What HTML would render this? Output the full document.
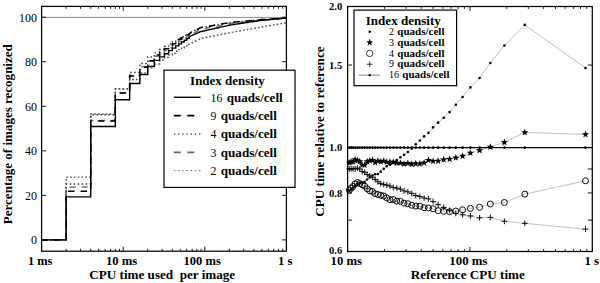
<!DOCTYPE html>
<html><head><meta charset="utf-8"><style>
html,body{margin:0;padding:0;background:#fff;width:600px;height:283px;overflow:hidden}
svg{display:block}
text{font-family:"Liberation Serif",serif}
</style></head><body>
<svg width="600" height="283" viewBox="0 0 600 283">
<line x1="41.6" y1="17.4" x2="286.4" y2="17.4" stroke="#8a8a8a" stroke-width="1"/>
<polyline points="41.60,239.90 66.16,239.90 66.16,177.10 90.73,177.10 90.73,114.07 115.29,114.07 115.29,88.91 129.66,88.91 129.66,79.56 139.86,79.56 139.86,72.88 147.76,72.88 147.76,67.75 154.23,67.75 154.23,63.97 159.69,63.97 159.69,60.05 164.42,60.05 164.42,57.36 168.59,57.36 168.59,55.11 172.33,55.11 172.33,53.09 175.71,53.09 175.71,51.27 178.79,51.27 178.79,49.60 181.63,49.60 181.63,48.12 184.25,48.12 184.25,46.80 186.70,46.80 186.70,45.57 188.98,45.57 188.98,44.41 190.20,43.80 191.42,43.18 192.64,42.57 193.86,41.96 195.07,41.34 196.29,40.73 197.51,40.11 198.73,39.50 199.94,38.89 201.16,38.46 202.38,38.21 203.60,37.97 204.81,37.72 206.03,37.48 207.25,37.23 208.47,36.99 209.69,36.74 210.90,36.49 212.12,36.25 213.34,36.00 214.56,35.76 215.77,35.51 216.99,35.27 218.21,35.02 219.43,34.78 220.64,34.53 221.86,34.29 223.08,34.04 224.30,33.80 225.52,33.55 226.73,33.31 227.95,33.06 229.17,32.82 230.39,32.57 231.60,32.35 232.82,32.14 234.04,31.92 235.26,31.70 236.47,31.49 237.69,31.27 238.91,31.05 240.13,30.83 241.35,30.62 242.56,30.40 243.78,30.18 245.00,29.97 246.22,29.75 247.43,29.53 248.65,29.31 249.87,29.10 251.09,28.88 252.30,28.66 253.52,28.45 254.74,28.23 255.96,28.01 257.18,27.79 258.39,27.58 259.61,27.36 260.83,27.15 262.05,26.94 263.26,26.73 264.48,26.52 265.70,26.31 266.92,26.10 268.13,25.90 269.35,25.69 270.57,25.48 271.79,25.27 273.01,25.06 274.22,24.85 275.44,24.64 276.66,24.44 277.88,24.23 279.09,24.02 280.31,23.81 281.53,23.60 282.75,23.39 283.96,23.18 285.18,22.98 286.40,22.77" fill="none" stroke="#5a5a5a" stroke-width="1.4" stroke-dasharray="1.8,2.0"/>
<polyline points="41.60,239.90 66.16,239.90 66.16,186.90 90.73,186.90 90.73,120.53 115.29,120.53 115.29,92.92 129.66,92.92 129.66,75.55 139.86,75.55 139.86,66.64 147.76,66.64 147.76,61.29 154.23,61.29 154.23,56.17 159.69,56.17 159.69,52.96 164.42,52.96 164.42,50.17 168.59,50.17 168.59,47.71 172.33,47.71 172.33,45.35 175.71,45.35 175.71,43.22 178.79,43.22 178.79,41.27 181.63,41.27 181.63,39.61 184.25,39.61 184.25,38.20 186.70,38.20 186.70,36.89 188.98,36.89 188.98,35.66 190.20,35.01 191.42,34.35 192.64,33.70 193.86,33.05 195.07,32.39 196.29,31.74 197.51,31.08 198.73,30.43 199.94,29.77 201.16,29.33 202.38,29.08 203.60,28.84 204.81,28.59 206.03,28.34 207.25,28.10 208.47,27.85 209.69,27.61 210.90,27.36 212.12,27.12 213.34,26.87 214.56,26.63 215.77,26.38 216.99,26.14 218.21,25.89 219.43,25.65 220.64,25.40 221.86,25.16 223.08,24.91 224.30,24.67 225.52,24.42 226.73,24.18 227.95,23.93 229.17,23.69 230.39,23.44 231.60,23.31 232.82,23.18 234.04,23.06 235.26,22.93 236.47,22.81 237.69,22.68 238.91,22.55 240.13,22.43 241.35,22.30 242.56,22.17 243.78,22.05 245.00,21.92 246.22,21.79 247.43,21.67 248.65,21.54 249.87,21.41 251.09,21.29 252.30,21.16 253.52,21.03 254.74,20.91 255.96,20.78 257.18,20.65 258.39,20.53 259.61,20.40 260.83,20.28 262.05,20.19 263.26,20.10 264.48,20.00 265.70,19.91 266.92,19.81 268.13,19.72 269.35,19.63 270.57,19.53 271.79,19.44 273.01,19.35 274.22,19.25 275.44,19.16 276.66,19.06 277.88,18.97 279.09,18.88 280.31,18.78 281.53,18.69 282.75,18.59 283.96,18.50 285.18,18.41 286.40,18.31" fill="none" stroke="#6f6f6f" stroke-width="1.5" stroke-dasharray="6,6" stroke-dashoffset="3"/>
<polyline points="41.60,239.90 66.16,239.90 66.16,184.00 90.73,184.00 90.73,114.74 115.29,114.74 115.29,88.91 129.66,88.91 129.66,72.43 139.86,72.43 139.86,63.52 147.76,63.52 147.76,56.84 154.23,56.84 154.23,52.83 159.69,52.83 159.69,49.47 164.42,49.47 164.42,46.56 168.59,46.56 168.59,43.99 172.33,43.99 172.33,41.70 175.71,41.70 175.71,39.79 178.79,39.79 178.79,38.06 181.63,38.06 181.63,36.59 184.25,36.59 184.25,35.35 186.70,35.35 186.70,34.20 188.98,34.20 188.98,33.12 190.20,32.55 191.42,31.97 192.64,31.40 193.86,30.82 195.07,30.25 196.29,29.68 197.51,29.10 198.73,28.53 199.94,27.95 201.16,27.56 202.38,27.35 203.60,27.14 204.81,26.94 206.03,26.73 207.25,26.52 208.47,26.31 209.69,26.10 210.90,25.89 212.12,25.68 213.34,25.47 214.56,25.26 215.77,25.06 216.99,24.85 218.21,24.64 219.43,24.43 220.64,24.22 221.86,24.01 223.08,23.80 224.30,23.59 225.52,23.38 226.73,23.18 227.95,22.97 229.17,22.76 230.39,22.55 231.60,22.43 232.82,22.31 234.04,22.19 235.26,22.08 236.47,21.96 237.69,21.84 238.91,21.72 240.13,21.61 241.35,21.49 242.56,21.37 243.78,21.25 245.00,21.14 246.22,21.02 247.43,20.90 248.65,20.78 249.87,20.67 251.09,20.55 252.30,20.43 253.52,20.31 254.74,20.20 255.96,20.08 257.18,19.96 258.39,19.84 259.61,19.72 260.83,19.62 262.05,19.55 263.26,19.48 264.48,19.40 265.70,19.33 266.92,19.26 268.13,19.19 269.35,19.11 270.57,19.04 271.79,18.97 273.01,18.89 274.22,18.82 275.44,18.75 276.66,18.67 277.88,18.60 279.09,18.53 280.31,18.46 281.53,18.38 282.75,18.31 283.96,18.24 285.18,18.16 286.40,18.09" fill="none" stroke="#333" stroke-width="1.4" stroke-dasharray="1.5,2.5"/>
<polyline points="41.60,239.90 66.16,239.90 66.16,191.35 90.73,191.35 90.73,120.98 115.29,120.98 115.29,92.92 129.66,92.92 129.66,75.99 139.86,75.99 139.86,67.31 147.76,67.31 147.76,60.63 154.23,60.63 154.23,55.06 159.69,55.06 159.69,51.67 164.42,51.67 164.42,48.74 168.59,48.74 168.59,46.15 172.33,46.15 172.33,43.65 175.71,43.65 175.71,41.39 178.79,41.39 178.79,39.33 181.63,39.33 181.63,37.63 184.25,37.63 184.25,36.24 186.70,36.24 186.70,34.96 188.98,34.96 188.98,33.75 190.20,33.11 191.42,32.47 192.64,31.83 193.86,31.19 195.07,30.55 196.29,29.91 197.51,29.27 198.73,28.63 199.94,27.99 201.16,27.56 202.38,27.35 203.60,27.14 204.81,26.94 206.03,26.73 207.25,26.52 208.47,26.31 209.69,26.10 210.90,25.89 212.12,25.68 213.34,25.47 214.56,25.26 215.77,25.06 216.99,24.85 218.21,24.64 219.43,24.43 220.64,24.22 221.86,24.01 223.08,23.80 224.30,23.59 225.52,23.38 226.73,23.18 227.95,22.97 229.17,22.76 230.39,22.55 231.60,22.43 232.82,22.31 234.04,22.19 235.26,22.08 236.47,21.96 237.69,21.84 238.91,21.72 240.13,21.61 241.35,21.49 242.56,21.37 243.78,21.25 245.00,21.14 246.22,21.02 247.43,20.90 248.65,20.78 249.87,20.67 251.09,20.55 252.30,20.43 253.52,20.31 254.74,20.20 255.96,20.08 257.18,19.96 258.39,19.84 259.61,19.72 260.83,19.62 262.05,19.55 263.26,19.48 264.48,19.40 265.70,19.33 266.92,19.26 268.13,19.19 269.35,19.11 270.57,19.04 271.79,18.97 273.01,18.89 274.22,18.82 275.44,18.75 276.66,18.67 277.88,18.60 279.09,18.53 280.31,18.46 281.53,18.38 282.75,18.31 283.96,18.24 285.18,18.16 286.40,18.09" fill="none" stroke="#000" stroke-width="1.5" stroke-dasharray="6.5,6"/>
<polyline points="41.60,239.90 66.16,239.90 66.16,196.92 90.73,196.92 90.73,126.55 115.29,126.55 115.29,99.82 129.66,99.82 129.66,83.56 139.86,83.56 139.86,74.43 147.76,74.43 147.76,66.42 154.23,66.42 154.23,60.40 159.69,60.40 159.69,56.84 164.42,56.84 164.42,53.72 168.59,53.72 168.59,50.61 172.33,50.61 172.33,48.14 175.71,48.14 175.71,45.91 178.79,45.91 178.79,43.87 181.63,43.87 181.63,41.99 184.25,41.99 184.25,40.26 186.70,40.26 186.70,38.64 188.98,38.64 188.98,37.13 190.20,36.33 191.42,35.72 192.64,35.18 193.86,34.64 195.07,34.10 196.29,33.56 197.51,33.02 198.73,32.48 199.94,31.94 201.16,31.54 202.38,31.27 203.60,30.99 204.81,30.72 206.03,30.45 207.25,30.18 208.47,29.90 209.69,29.63 210.90,29.36 212.12,29.09 213.34,28.81 214.56,28.54 215.77,28.27 216.99,28.00 218.21,27.72 219.43,27.45 220.64,27.18 221.86,26.91 223.08,26.63 224.30,26.36 225.52,26.09 226.73,25.82 227.95,25.55 229.17,25.27 230.39,25.00 231.60,24.82 232.82,24.64 234.04,24.46 235.26,24.27 236.47,24.09 237.69,23.91 238.91,23.73 240.13,23.55 241.35,23.37 242.56,23.19 243.78,23.01 245.00,22.83 246.22,22.65 247.43,22.47 248.65,22.28 249.87,22.10 251.09,21.92 252.30,21.74 253.52,21.56 254.74,21.38 255.96,21.20 257.18,21.02 258.39,20.84 259.61,20.66 260.83,20.50 262.05,20.37 263.26,20.25 264.48,20.12 265.70,19.99 266.92,19.87 268.13,19.74 269.35,19.62 270.57,19.49 271.79,19.37 273.01,19.24 274.22,19.12 275.44,18.99 276.66,18.87 277.88,18.74 279.09,18.62 280.31,18.49 281.53,18.37 282.75,18.24 283.96,18.12 285.18,17.99 286.40,17.87" fill="none" stroke="#000" stroke-width="1.4"/>
<rect x="41.6" y="6.4" width="244.80" height="244.80" fill="none" stroke="#000" stroke-width="1.25"/>
<line x1="66.16" y1="251.2" x2="66.16" y2="248.79999999999998" stroke="#000" stroke-width="0.9"/>
<line x1="66.16" y1="6.4" x2="66.16" y2="8.8" stroke="#000" stroke-width="0.9"/>
<line x1="80.53" y1="251.2" x2="80.53" y2="248.79999999999998" stroke="#000" stroke-width="0.9"/>
<line x1="80.53" y1="6.4" x2="80.53" y2="8.8" stroke="#000" stroke-width="0.9"/>
<line x1="90.73" y1="251.2" x2="90.73" y2="248.79999999999998" stroke="#000" stroke-width="0.9"/>
<line x1="90.73" y1="6.4" x2="90.73" y2="8.8" stroke="#000" stroke-width="0.9"/>
<line x1="98.64" y1="251.2" x2="98.64" y2="248.79999999999998" stroke="#000" stroke-width="0.9"/>
<line x1="98.64" y1="6.4" x2="98.64" y2="8.8" stroke="#000" stroke-width="0.9"/>
<line x1="105.10" y1="251.2" x2="105.10" y2="248.79999999999998" stroke="#000" stroke-width="0.9"/>
<line x1="105.10" y1="6.4" x2="105.10" y2="8.8" stroke="#000" stroke-width="0.9"/>
<line x1="110.56" y1="251.2" x2="110.56" y2="248.79999999999998" stroke="#000" stroke-width="0.9"/>
<line x1="110.56" y1="6.4" x2="110.56" y2="8.8" stroke="#000" stroke-width="0.9"/>
<line x1="115.29" y1="251.2" x2="115.29" y2="248.79999999999998" stroke="#000" stroke-width="0.9"/>
<line x1="115.29" y1="6.4" x2="115.29" y2="8.8" stroke="#000" stroke-width="0.9"/>
<line x1="119.47" y1="251.2" x2="119.47" y2="248.79999999999998" stroke="#000" stroke-width="0.9"/>
<line x1="119.47" y1="6.4" x2="119.47" y2="8.8" stroke="#000" stroke-width="0.9"/>
<line x1="123.20" y1="251.2" x2="123.20" y2="246.7" stroke="#000" stroke-width="0.9"/>
<line x1="123.20" y1="6.4" x2="123.20" y2="10.9" stroke="#000" stroke-width="0.9"/>
<line x1="147.76" y1="251.2" x2="147.76" y2="248.79999999999998" stroke="#000" stroke-width="0.9"/>
<line x1="147.76" y1="6.4" x2="147.76" y2="8.8" stroke="#000" stroke-width="0.9"/>
<line x1="162.13" y1="251.2" x2="162.13" y2="248.79999999999998" stroke="#000" stroke-width="0.9"/>
<line x1="162.13" y1="6.4" x2="162.13" y2="8.8" stroke="#000" stroke-width="0.9"/>
<line x1="172.33" y1="251.2" x2="172.33" y2="248.79999999999998" stroke="#000" stroke-width="0.9"/>
<line x1="172.33" y1="6.4" x2="172.33" y2="8.8" stroke="#000" stroke-width="0.9"/>
<line x1="180.24" y1="251.2" x2="180.24" y2="248.79999999999998" stroke="#000" stroke-width="0.9"/>
<line x1="180.24" y1="6.4" x2="180.24" y2="8.8" stroke="#000" stroke-width="0.9"/>
<line x1="186.70" y1="251.2" x2="186.70" y2="248.79999999999998" stroke="#000" stroke-width="0.9"/>
<line x1="186.70" y1="6.4" x2="186.70" y2="8.8" stroke="#000" stroke-width="0.9"/>
<line x1="192.16" y1="251.2" x2="192.16" y2="248.79999999999998" stroke="#000" stroke-width="0.9"/>
<line x1="192.16" y1="6.4" x2="192.16" y2="8.8" stroke="#000" stroke-width="0.9"/>
<line x1="196.89" y1="251.2" x2="196.89" y2="248.79999999999998" stroke="#000" stroke-width="0.9"/>
<line x1="196.89" y1="6.4" x2="196.89" y2="8.8" stroke="#000" stroke-width="0.9"/>
<line x1="201.07" y1="251.2" x2="201.07" y2="248.79999999999998" stroke="#000" stroke-width="0.9"/>
<line x1="201.07" y1="6.4" x2="201.07" y2="8.8" stroke="#000" stroke-width="0.9"/>
<line x1="204.80" y1="251.2" x2="204.80" y2="246.7" stroke="#000" stroke-width="0.9"/>
<line x1="204.80" y1="6.4" x2="204.80" y2="10.9" stroke="#000" stroke-width="0.9"/>
<line x1="229.36" y1="251.2" x2="229.36" y2="248.79999999999998" stroke="#000" stroke-width="0.9"/>
<line x1="229.36" y1="6.4" x2="229.36" y2="8.8" stroke="#000" stroke-width="0.9"/>
<line x1="243.73" y1="251.2" x2="243.73" y2="248.79999999999998" stroke="#000" stroke-width="0.9"/>
<line x1="243.73" y1="6.4" x2="243.73" y2="8.8" stroke="#000" stroke-width="0.9"/>
<line x1="253.93" y1="251.2" x2="253.93" y2="248.79999999999998" stroke="#000" stroke-width="0.9"/>
<line x1="253.93" y1="6.4" x2="253.93" y2="8.8" stroke="#000" stroke-width="0.9"/>
<line x1="261.84" y1="251.2" x2="261.84" y2="248.79999999999998" stroke="#000" stroke-width="0.9"/>
<line x1="261.84" y1="6.4" x2="261.84" y2="8.8" stroke="#000" stroke-width="0.9"/>
<line x1="268.30" y1="251.2" x2="268.30" y2="248.79999999999998" stroke="#000" stroke-width="0.9"/>
<line x1="268.30" y1="6.4" x2="268.30" y2="8.8" stroke="#000" stroke-width="0.9"/>
<line x1="273.76" y1="251.2" x2="273.76" y2="248.79999999999998" stroke="#000" stroke-width="0.9"/>
<line x1="273.76" y1="6.4" x2="273.76" y2="8.8" stroke="#000" stroke-width="0.9"/>
<line x1="278.49" y1="251.2" x2="278.49" y2="248.79999999999998" stroke="#000" stroke-width="0.9"/>
<line x1="278.49" y1="6.4" x2="278.49" y2="8.8" stroke="#000" stroke-width="0.9"/>
<line x1="282.67" y1="251.2" x2="282.67" y2="248.79999999999998" stroke="#000" stroke-width="0.9"/>
<line x1="282.67" y1="6.4" x2="282.67" y2="8.8" stroke="#000" stroke-width="0.9"/>
<line x1="41.6" y1="239.90" x2="46.1" y2="239.90" stroke="#000" stroke-width="0.9"/>
<line x1="286.4" y1="239.90" x2="281.9" y2="239.90" stroke="#000" stroke-width="0.9"/>
<text x="36.9" y="244.20000000000002" font-size="12" font-weight="normal" text-anchor="end" fill="#000" textLength="6" lengthAdjust="spacingAndGlyphs" >0</text>
<line x1="41.6" y1="195.36" x2="46.1" y2="195.36" stroke="#000" stroke-width="0.9"/>
<line x1="286.4" y1="195.36" x2="281.9" y2="195.36" stroke="#000" stroke-width="0.9"/>
<text x="36.9" y="199.66000000000003" font-size="12" font-weight="normal" text-anchor="end" fill="#000" textLength="12" lengthAdjust="spacingAndGlyphs" >20</text>
<line x1="41.6" y1="150.82" x2="46.1" y2="150.82" stroke="#000" stroke-width="0.9"/>
<line x1="286.4" y1="150.82" x2="281.9" y2="150.82" stroke="#000" stroke-width="0.9"/>
<text x="36.9" y="155.12" font-size="12" font-weight="normal" text-anchor="end" fill="#000" textLength="12" lengthAdjust="spacingAndGlyphs" >40</text>
<line x1="41.6" y1="106.28" x2="46.1" y2="106.28" stroke="#000" stroke-width="0.9"/>
<line x1="286.4" y1="106.28" x2="281.9" y2="106.28" stroke="#000" stroke-width="0.9"/>
<text x="36.9" y="110.58" font-size="12" font-weight="normal" text-anchor="end" fill="#000" textLength="12" lengthAdjust="spacingAndGlyphs" >60</text>
<line x1="41.6" y1="61.74" x2="46.1" y2="61.74" stroke="#000" stroke-width="0.9"/>
<line x1="286.4" y1="61.74" x2="281.9" y2="61.74" stroke="#000" stroke-width="0.9"/>
<text x="36.9" y="66.04" font-size="12" font-weight="normal" text-anchor="end" fill="#000" textLength="12" lengthAdjust="spacingAndGlyphs" >80</text>
<line x1="41.6" y1="17.20" x2="46.1" y2="17.20" stroke="#000" stroke-width="0.9"/>
<line x1="286.4" y1="17.20" x2="281.9" y2="17.20" stroke="#000" stroke-width="0.9"/>
<text x="36.9" y="21.500000000000018" font-size="12" font-weight="normal" text-anchor="end" fill="#000" textLength="18" lengthAdjust="spacingAndGlyphs" >100</text>
<text x="40.2" y="265.2" font-size="12" font-weight="bold" text-anchor="middle" fill="#000" textLength="24.4" lengthAdjust="spacingAndGlyphs" >1 ms</text>
<text x="121.6" y="265.2" font-size="12" font-weight="bold" text-anchor="middle" fill="#000" textLength="31.4" lengthAdjust="spacingAndGlyphs" >10 ms</text>
<text x="202.2" y="265.2" font-size="12" font-weight="bold" text-anchor="middle" fill="#000" textLength="37.3" lengthAdjust="spacingAndGlyphs" >100 ms</text>
<text x="285.3" y="265.2" font-size="12" font-weight="bold" text-anchor="middle" fill="#000" textLength="14.5" lengthAdjust="spacingAndGlyphs" >1 s</text>
<text x="89.3" y="279.3" font-size="13" font-weight="bold" text-anchor="start" fill="#000" textLength="145.9" lengthAdjust="spacingAndGlyphs" xml:space="preserve">CPU time used  per image</text>
<text transform="translate(11.5,224.2) rotate(-90)" x="0" y="0" font-size="13" font-weight="bold" textLength="180" lengthAdjust="spacingAndGlyphs">Percentage of images recognized</text>
<rect x="164" y="70.2" width="131" height="117.2" fill="#fff" stroke="#000" stroke-width="1.2"/>
<text x="190.1" y="85.4" font-size="13" font-weight="bold" text-anchor="start" fill="#000" textLength="74.7" lengthAdjust="spacingAndGlyphs" >Index density</text>
<line x1="173.8" y1="97.30" x2="200.6" y2="97.30" stroke="#000" stroke-width="1.4" stroke-dasharray="none"/>
<text x="210.6" y="101.6" font-size="12" font-weight="normal" text-anchor="start" fill="#000" textLength="11.8" lengthAdjust="spacingAndGlyphs" >16</text>
<text x="226.70000000000002" y="101.6" font-size="12.5" font-weight="bold" text-anchor="start" fill="#000" textLength="56" lengthAdjust="spacingAndGlyphs" >quads/cell</text>
<line x1="173.8" y1="115.65" x2="200.6" y2="115.65" stroke="#000" stroke-width="1.6" stroke-dasharray="7,6.5"/>
<text x="210.6" y="119.95" font-size="12" font-weight="normal" text-anchor="start" fill="#000" textLength="5.9" lengthAdjust="spacingAndGlyphs" >9</text>
<text x="220.8" y="119.95" font-size="12.5" font-weight="bold" text-anchor="start" fill="#000" textLength="56" lengthAdjust="spacingAndGlyphs" >quads/cell</text>
<line x1="173.8" y1="134.00" x2="200.6" y2="134.00" stroke="#555" stroke-width="1.3" stroke-dasharray="1.4,2.8"/>
<text x="210.6" y="138.3" font-size="12" font-weight="normal" text-anchor="start" fill="#000" textLength="5.9" lengthAdjust="spacingAndGlyphs" >4</text>
<text x="220.8" y="138.3" font-size="12.5" font-weight="bold" text-anchor="start" fill="#000" textLength="56" lengthAdjust="spacingAndGlyphs" >quads/cell</text>
<line x1="173.8" y1="152.35" x2="200.6" y2="152.35" stroke="#666" stroke-width="1.8" stroke-dasharray="7,6.5"/>
<text x="210.6" y="156.65" font-size="12" font-weight="normal" text-anchor="start" fill="#000" textLength="5.9" lengthAdjust="spacingAndGlyphs" >3</text>
<text x="220.8" y="156.65" font-size="12.5" font-weight="bold" text-anchor="start" fill="#000" textLength="56" lengthAdjust="spacingAndGlyphs" >quads/cell</text>
<line x1="173.8" y1="170.70" x2="200.6" y2="170.70" stroke="#777" stroke-width="1.3" stroke-dasharray="1.4,2.8"/>
<text x="210.6" y="175.0" font-size="12" font-weight="normal" text-anchor="start" fill="#000" textLength="5.9" lengthAdjust="spacingAndGlyphs" >2</text>
<text x="220.8" y="175.0" font-size="12.5" font-weight="bold" text-anchor="start" fill="#000" textLength="56" lengthAdjust="spacingAndGlyphs" >quads/cell</text>
<rect x="347.6" y="6.5" width="244.70" height="245.00" fill="none" stroke="#000" stroke-width="1.25"/>
<line x1="384.43" y1="251.5" x2="384.43" y2="249.1" stroke="#000" stroke-width="0.9"/>
<line x1="384.43" y1="6.5" x2="384.43" y2="8.9" stroke="#000" stroke-width="0.9"/>
<line x1="405.98" y1="251.5" x2="405.98" y2="249.1" stroke="#000" stroke-width="0.9"/>
<line x1="405.98" y1="6.5" x2="405.98" y2="8.9" stroke="#000" stroke-width="0.9"/>
<line x1="421.26" y1="251.5" x2="421.26" y2="249.1" stroke="#000" stroke-width="0.9"/>
<line x1="421.26" y1="6.5" x2="421.26" y2="8.9" stroke="#000" stroke-width="0.9"/>
<line x1="433.12" y1="251.5" x2="433.12" y2="249.1" stroke="#000" stroke-width="0.9"/>
<line x1="433.12" y1="6.5" x2="433.12" y2="8.9" stroke="#000" stroke-width="0.9"/>
<line x1="442.81" y1="251.5" x2="442.81" y2="249.1" stroke="#000" stroke-width="0.9"/>
<line x1="442.81" y1="6.5" x2="442.81" y2="8.9" stroke="#000" stroke-width="0.9"/>
<line x1="451.00" y1="251.5" x2="451.00" y2="249.1" stroke="#000" stroke-width="0.9"/>
<line x1="451.00" y1="6.5" x2="451.00" y2="8.9" stroke="#000" stroke-width="0.9"/>
<line x1="458.09" y1="251.5" x2="458.09" y2="249.1" stroke="#000" stroke-width="0.9"/>
<line x1="458.09" y1="6.5" x2="458.09" y2="8.9" stroke="#000" stroke-width="0.9"/>
<line x1="464.35" y1="251.5" x2="464.35" y2="249.1" stroke="#000" stroke-width="0.9"/>
<line x1="464.35" y1="6.5" x2="464.35" y2="8.9" stroke="#000" stroke-width="0.9"/>
<line x1="469.95" y1="251.5" x2="469.95" y2="247.0" stroke="#000" stroke-width="0.9"/>
<line x1="469.95" y1="6.5" x2="469.95" y2="11.0" stroke="#000" stroke-width="0.9"/>
<line x1="506.78" y1="251.5" x2="506.78" y2="249.1" stroke="#000" stroke-width="0.9"/>
<line x1="506.78" y1="6.5" x2="506.78" y2="8.9" stroke="#000" stroke-width="0.9"/>
<line x1="528.33" y1="251.5" x2="528.33" y2="249.1" stroke="#000" stroke-width="0.9"/>
<line x1="528.33" y1="6.5" x2="528.33" y2="8.9" stroke="#000" stroke-width="0.9"/>
<line x1="543.61" y1="251.5" x2="543.61" y2="249.1" stroke="#000" stroke-width="0.9"/>
<line x1="543.61" y1="6.5" x2="543.61" y2="8.9" stroke="#000" stroke-width="0.9"/>
<line x1="555.47" y1="251.5" x2="555.47" y2="249.1" stroke="#000" stroke-width="0.9"/>
<line x1="555.47" y1="6.5" x2="555.47" y2="8.9" stroke="#000" stroke-width="0.9"/>
<line x1="565.16" y1="251.5" x2="565.16" y2="249.1" stroke="#000" stroke-width="0.9"/>
<line x1="565.16" y1="6.5" x2="565.16" y2="8.9" stroke="#000" stroke-width="0.9"/>
<line x1="573.35" y1="251.5" x2="573.35" y2="249.1" stroke="#000" stroke-width="0.9"/>
<line x1="573.35" y1="6.5" x2="573.35" y2="8.9" stroke="#000" stroke-width="0.9"/>
<line x1="580.44" y1="251.5" x2="580.44" y2="249.1" stroke="#000" stroke-width="0.9"/>
<line x1="580.44" y1="6.5" x2="580.44" y2="8.9" stroke="#000" stroke-width="0.9"/>
<line x1="586.70" y1="251.5" x2="586.70" y2="249.1" stroke="#000" stroke-width="0.9"/>
<line x1="586.70" y1="6.5" x2="586.70" y2="8.9" stroke="#000" stroke-width="0.9"/>
<line x1="347.6" y1="220.13" x2="352.1" y2="220.13" stroke="#000" stroke-width="0.9"/>
<line x1="592.3" y1="220.13" x2="587.8" y2="220.13" stroke="#000" stroke-width="0.9"/>
<line x1="347.6" y1="192.96" x2="352.1" y2="192.96" stroke="#000" stroke-width="0.9"/>
<line x1="592.3" y1="192.96" x2="587.8" y2="192.96" stroke="#000" stroke-width="0.9"/>
<line x1="347.6" y1="168.99" x2="352.1" y2="168.99" stroke="#000" stroke-width="0.9"/>
<line x1="592.3" y1="168.99" x2="587.8" y2="168.99" stroke="#000" stroke-width="0.9"/>
<line x1="347.6" y1="147.55" x2="352.1" y2="147.55" stroke="#000" stroke-width="0.9"/>
<line x1="592.3" y1="147.55" x2="587.8" y2="147.55" stroke="#000" stroke-width="0.9"/>
<line x1="347.6" y1="65.04" x2="352.1" y2="65.04" stroke="#000" stroke-width="0.9"/>
<line x1="592.3" y1="65.04" x2="587.8" y2="65.04" stroke="#000" stroke-width="0.9"/>
<text x="342.2" y="254.10006488855498" font-size="10.5" font-weight="bold" text-anchor="end" fill="#000" textLength="13.2" lengthAdjust="spacingAndGlyphs" >0.6</text>
<text x="342.2" y="196.55877046336994" font-size="10.5" font-weight="bold" text-anchor="end" fill="#000" textLength="13.2" lengthAdjust="spacingAndGlyphs" >0.8</text>
<text x="342.2" y="151.15061476831502" font-size="10.5" font-weight="bold" text-anchor="end" fill="#000" textLength="13.2" lengthAdjust="spacingAndGlyphs" >1.0</text>
<text x="342.2" y="68.64129442518501" font-size="10.5" font-weight="bold" text-anchor="end" fill="#000" textLength="13.2" lengthAdjust="spacingAndGlyphs" >1.5</text>
<text x="342.2" y="10.1" font-size="10.5" font-weight="bold" text-anchor="end" fill="#000" textLength="13.2" lengthAdjust="spacingAndGlyphs" >2.0</text>
<text x="346.3" y="264.9" font-size="12" font-weight="bold" text-anchor="middle" fill="#000" textLength="31.4" lengthAdjust="spacingAndGlyphs" >10 ms</text>
<text x="468.4" y="264.9" font-size="12" font-weight="bold" text-anchor="middle" fill="#000" textLength="38.2" lengthAdjust="spacingAndGlyphs" >100 ms</text>
<text x="591.8" y="264.9" font-size="12" font-weight="bold" text-anchor="middle" fill="#000" textLength="14.6" lengthAdjust="spacingAndGlyphs" >1 s</text>
<text x="410.7" y="279.3" font-size="13" font-weight="bold" text-anchor="start" fill="#000" textLength="114.1" lengthAdjust="spacingAndGlyphs" >Reference CPU time</text>
<text transform="translate(324.1,216.8) rotate(-90)" x="0" y="0" font-size="13" font-weight="bold" textLength="170.4" lengthAdjust="spacingAndGlyphs">CPU time relative to reference</text>
<polyline points="349.30,190.68 351.11,189.26 353.05,187.44 355.12,185.73 357.35,184.00 359.73,183.15 362.17,182.59 364.66,181.87 367.21,179.48 369.80,177.32 372.45,175.58 375.16,174.28 377.91,174.04 380.74,171.67 383.69,168.83 386.76,166.26 389.96,164.77 393.29,162.68 396.76,160.14 400.37,157.23 404.07,154.83 407.87,151.96 411.77,148.69 415.76,144.32 419.87,140.52 424.10,136.40 428.46,132.86 433.09,127.40 438.10,122.63 443.70,117.71 449.60,112.10 455.80,104.70 462.60,97.00 470.40,87.40 479.60,78.00 490.30,63.00 504.40,45.50 524.80,24.90 585.50,68.00" fill="none" stroke="#b0b0b0" stroke-width="0.8"/>
<polyline points="349.30,162.76 351.11,161.74 353.05,161.81 355.12,159.63 357.35,160.59 359.73,161.51 362.17,165.02 364.66,164.91 367.21,161.60 369.80,160.74 372.45,160.15 375.16,162.40 377.91,160.89 380.74,161.73 383.69,161.04 386.76,161.94 389.96,161.88 393.29,162.09 396.76,162.97 400.37,162.98 404.07,163.97 407.87,163.32 411.77,164.09 415.76,163.59 419.87,163.68 424.10,162.81 428.46,160.23 433.09,161.18 438.10,160.99 443.70,159.60 449.60,159.06 455.80,157.80 462.60,156.12 470.40,153.03 479.60,150.50 490.30,146.93 504.40,142.33 524.80,132.40 585.50,134.40" fill="none" stroke="#b0b0b0" stroke-width="0.8"/>
<polyline points="349.30,190.25 351.11,188.14 353.05,186.47 355.12,183.91 357.35,182.54 359.73,183.53 362.17,184.76 364.66,186.11 367.21,188.79 369.80,190.81 372.45,191.52 375.16,193.66 377.91,194.50 380.74,195.31 383.69,196.02 386.76,197.77 389.96,199.63 393.29,199.51 396.76,201.10 400.37,201.35 404.07,203.16 407.87,203.72 411.77,205.26 415.76,206.06 419.87,206.18 424.10,207.74 428.46,207.92 433.09,208.78 438.10,210.61 443.70,211.32 449.60,211.70 455.80,211.02 462.60,209.84 470.40,208.39 479.60,207.30 490.30,204.00 504.40,202.50 524.80,194.10 585.50,180.80" fill="none" stroke="#b0b0b0" stroke-width="0.8"/>
<polyline points="349.30,168.81 351.11,168.83 353.05,168.88 355.12,168.92 357.35,168.15 359.73,169.03 362.17,171.54 364.66,172.28 367.21,174.48 369.80,175.87 372.45,177.27 375.16,179.47 377.91,181.70 380.74,183.67 383.69,184.37 386.76,185.13 389.96,186.03 393.29,187.48 396.76,188.07 400.37,189.16 404.07,190.95 407.87,191.86 411.77,193.38 415.76,195.59 419.87,196.48 424.10,197.99 428.46,198.87 433.09,201.64 438.10,204.65 443.70,207.45 449.60,210.40 455.80,213.40 462.60,214.76 470.40,215.93 479.60,217.80 490.30,217.40 504.40,221.30 524.80,223.30 585.50,229.20" fill="none" stroke="#b0b0b0" stroke-width="0.8"/>
<line x1="347.6" y1="147.55" x2="592.3" y2="147.55" stroke="#000" stroke-width="1.2"/>
<circle cx="349.30" cy="190.25" r="3.0" fill="none" stroke="#000" stroke-width="0.95"/>
<circle cx="351.11" cy="188.14" r="3.0" fill="none" stroke="#000" stroke-width="0.95"/>
<circle cx="353.05" cy="186.47" r="3.0" fill="none" stroke="#000" stroke-width="0.95"/>
<circle cx="355.12" cy="183.91" r="3.0" fill="none" stroke="#000" stroke-width="0.95"/>
<circle cx="357.35" cy="182.54" r="3.0" fill="none" stroke="#000" stroke-width="0.95"/>
<circle cx="359.73" cy="183.53" r="3.0" fill="none" stroke="#000" stroke-width="0.95"/>
<circle cx="362.17" cy="184.76" r="3.0" fill="none" stroke="#000" stroke-width="0.95"/>
<circle cx="364.66" cy="186.11" r="3.0" fill="none" stroke="#000" stroke-width="0.95"/>
<circle cx="367.21" cy="188.79" r="3.0" fill="none" stroke="#000" stroke-width="0.95"/>
<circle cx="369.80" cy="190.81" r="3.0" fill="none" stroke="#000" stroke-width="0.95"/>
<circle cx="372.45" cy="191.52" r="3.0" fill="none" stroke="#000" stroke-width="0.95"/>
<circle cx="375.16" cy="193.66" r="3.0" fill="none" stroke="#000" stroke-width="0.95"/>
<circle cx="377.91" cy="194.50" r="3.0" fill="none" stroke="#000" stroke-width="0.95"/>
<circle cx="380.74" cy="195.31" r="3.0" fill="none" stroke="#000" stroke-width="0.95"/>
<circle cx="383.69" cy="196.02" r="3.0" fill="none" stroke="#000" stroke-width="0.95"/>
<circle cx="386.76" cy="197.77" r="3.0" fill="none" stroke="#000" stroke-width="0.95"/>
<circle cx="389.96" cy="199.63" r="3.0" fill="none" stroke="#000" stroke-width="0.95"/>
<circle cx="393.29" cy="199.51" r="3.0" fill="none" stroke="#000" stroke-width="0.95"/>
<circle cx="396.76" cy="201.10" r="3.0" fill="none" stroke="#000" stroke-width="0.95"/>
<circle cx="400.37" cy="201.35" r="3.0" fill="none" stroke="#000" stroke-width="0.95"/>
<circle cx="404.07" cy="203.16" r="3.0" fill="none" stroke="#000" stroke-width="0.95"/>
<circle cx="407.87" cy="203.72" r="3.0" fill="none" stroke="#000" stroke-width="0.95"/>
<circle cx="411.77" cy="205.26" r="3.0" fill="none" stroke="#000" stroke-width="0.95"/>
<circle cx="415.76" cy="206.06" r="3.0" fill="none" stroke="#000" stroke-width="0.95"/>
<circle cx="419.87" cy="206.18" r="3.0" fill="none" stroke="#000" stroke-width="0.95"/>
<circle cx="424.10" cy="207.74" r="3.0" fill="none" stroke="#000" stroke-width="0.95"/>
<circle cx="428.46" cy="207.92" r="3.0" fill="none" stroke="#000" stroke-width="0.95"/>
<circle cx="433.09" cy="208.78" r="3.0" fill="none" stroke="#000" stroke-width="0.95"/>
<circle cx="438.10" cy="210.61" r="3.0" fill="none" stroke="#000" stroke-width="0.95"/>
<circle cx="443.70" cy="211.32" r="3.0" fill="none" stroke="#000" stroke-width="0.95"/>
<circle cx="449.60" cy="211.70" r="3.0" fill="none" stroke="#000" stroke-width="0.95"/>
<circle cx="455.80" cy="211.02" r="3.0" fill="none" stroke="#000" stroke-width="0.95"/>
<circle cx="462.60" cy="209.84" r="3.0" fill="none" stroke="#000" stroke-width="0.95"/>
<circle cx="470.40" cy="208.39" r="3.0" fill="none" stroke="#000" stroke-width="0.95"/>
<circle cx="479.60" cy="207.30" r="3.0" fill="none" stroke="#000" stroke-width="0.95"/>
<circle cx="490.30" cy="204.00" r="3.0" fill="none" stroke="#000" stroke-width="0.95"/>
<circle cx="504.40" cy="202.50" r="3.0" fill="none" stroke="#000" stroke-width="0.95"/>
<circle cx="524.80" cy="194.10" r="3.0" fill="none" stroke="#000" stroke-width="0.95"/>
<circle cx="585.50" cy="180.80" r="3.0" fill="none" stroke="#000" stroke-width="0.95"/>
<path d="M346.40,168.81H352.20M349.30,165.91V171.71" stroke="#000" stroke-width="0.95"/>
<path d="M348.21,168.83H354.01M351.11,165.93V171.73" stroke="#000" stroke-width="0.95"/>
<path d="M350.15,168.88H355.95M353.05,165.98V171.78" stroke="#000" stroke-width="0.95"/>
<path d="M352.22,168.92H358.02M355.12,166.02V171.82" stroke="#000" stroke-width="0.95"/>
<path d="M354.45,168.15H360.25M357.35,165.25V171.05" stroke="#000" stroke-width="0.95"/>
<path d="M356.83,169.03H362.63M359.73,166.13V171.93" stroke="#000" stroke-width="0.95"/>
<path d="M359.27,171.54H365.07M362.17,168.64V174.44" stroke="#000" stroke-width="0.95"/>
<path d="M361.76,172.28H367.56M364.66,169.38V175.18" stroke="#000" stroke-width="0.95"/>
<path d="M364.31,174.48H370.11M367.21,171.58V177.38" stroke="#000" stroke-width="0.95"/>
<path d="M366.90,175.87H372.70M369.80,172.97V178.77" stroke="#000" stroke-width="0.95"/>
<path d="M369.55,177.27H375.35M372.45,174.37V180.17" stroke="#000" stroke-width="0.95"/>
<path d="M372.26,179.47H378.06M375.16,176.57V182.37" stroke="#000" stroke-width="0.95"/>
<path d="M375.01,181.70H380.81M377.91,178.80V184.60" stroke="#000" stroke-width="0.95"/>
<path d="M377.84,183.67H383.64M380.74,180.77V186.57" stroke="#000" stroke-width="0.95"/>
<path d="M380.79,184.37H386.59M383.69,181.47V187.27" stroke="#000" stroke-width="0.95"/>
<path d="M383.86,185.13H389.66M386.76,182.23V188.03" stroke="#000" stroke-width="0.95"/>
<path d="M387.06,186.03H392.86M389.96,183.13V188.93" stroke="#000" stroke-width="0.95"/>
<path d="M390.39,187.48H396.19M393.29,184.58V190.38" stroke="#000" stroke-width="0.95"/>
<path d="M393.86,188.07H399.66M396.76,185.17V190.97" stroke="#000" stroke-width="0.95"/>
<path d="M397.47,189.16H403.27M400.37,186.26V192.06" stroke="#000" stroke-width="0.95"/>
<path d="M401.17,190.95H406.97M404.07,188.05V193.85" stroke="#000" stroke-width="0.95"/>
<path d="M404.97,191.86H410.77M407.87,188.96V194.76" stroke="#000" stroke-width="0.95"/>
<path d="M408.87,193.38H414.67M411.77,190.48V196.28" stroke="#000" stroke-width="0.95"/>
<path d="M412.86,195.59H418.66M415.76,192.69V198.49" stroke="#000" stroke-width="0.95"/>
<path d="M416.97,196.48H422.77M419.87,193.58V199.38" stroke="#000" stroke-width="0.95"/>
<path d="M421.20,197.99H427.00M424.10,195.09V200.89" stroke="#000" stroke-width="0.95"/>
<path d="M425.56,198.87H431.36M428.46,195.97V201.77" stroke="#000" stroke-width="0.95"/>
<path d="M430.19,201.64H435.99M433.09,198.74V204.54" stroke="#000" stroke-width="0.95"/>
<path d="M435.20,204.65H441.00M438.10,201.75V207.55" stroke="#000" stroke-width="0.95"/>
<path d="M440.80,207.45H446.60M443.70,204.55V210.35" stroke="#000" stroke-width="0.95"/>
<path d="M446.70,210.40H452.50M449.60,207.50V213.30" stroke="#000" stroke-width="0.95"/>
<path d="M452.90,213.40H458.70M455.80,210.50V216.30" stroke="#000" stroke-width="0.95"/>
<path d="M459.70,214.76H465.50M462.60,211.86V217.66" stroke="#000" stroke-width="0.95"/>
<path d="M467.50,215.93H473.30M470.40,213.03V218.83" stroke="#000" stroke-width="0.95"/>
<path d="M476.70,217.80H482.50M479.60,214.90V220.70" stroke="#000" stroke-width="0.95"/>
<path d="M487.40,217.40H493.20M490.30,214.50V220.30" stroke="#000" stroke-width="0.95"/>
<path d="M501.50,221.30H507.30M504.40,218.40V224.20" stroke="#000" stroke-width="0.95"/>
<path d="M521.90,223.30H527.70M524.80,220.40V226.20" stroke="#000" stroke-width="0.95"/>
<path d="M582.60,229.20H588.40M585.50,226.30V232.10" stroke="#000" stroke-width="0.95"/>
<path d="M349.30,158.96 L350.21,161.51 L352.92,161.59 L350.78,163.24 L351.54,165.83 L349.30,164.31 L347.07,165.83 L347.83,163.24 L345.69,161.59 L348.39,161.51Z M351.11,157.94 L352.02,160.49 L354.73,160.57 L352.59,162.22 L353.34,164.82 L351.11,163.29 L348.88,164.82 L349.64,162.22 L347.50,160.57 L350.20,160.49Z M353.05,158.01 L353.96,160.55 L356.66,160.63 L354.52,162.28 L355.28,164.88 L353.05,163.36 L350.81,164.88 L351.57,162.28 L349.43,160.63 L352.14,160.55Z M355.12,155.83 L356.03,158.37 L358.74,158.45 L356.60,160.11 L357.36,162.70 L355.12,161.18 L352.89,162.70 L353.65,160.11 L351.51,158.45 L354.21,158.37Z M357.35,156.79 L358.26,159.34 L360.96,159.42 L358.82,161.07 L359.58,163.67 L357.35,162.14 L355.11,163.67 L355.87,161.07 L353.73,159.42 L356.43,159.34Z M359.73,157.71 L360.64,160.25 L363.34,160.33 L361.20,161.99 L361.96,164.58 L359.73,163.06 L357.49,164.58 L358.25,161.99 L356.11,160.33 L358.82,160.25Z M362.17,161.22 L363.08,163.76 L365.78,163.84 L363.65,165.49 L364.40,168.09 L362.17,166.57 L359.94,168.09 L360.70,165.49 L358.56,163.84 L361.26,163.76Z M364.66,161.11 L365.58,163.65 L368.28,163.73 L366.14,165.39 L366.90,167.98 L364.66,166.46 L362.43,167.98 L363.19,165.39 L361.05,163.73 L363.75,163.65Z M367.21,157.80 L368.12,160.35 L370.82,160.43 L368.68,162.08 L369.44,164.68 L367.21,163.15 L364.97,164.68 L365.73,162.08 L363.59,160.43 L366.30,160.35Z M369.80,156.94 L370.72,159.48 L373.42,159.56 L371.28,161.22 L372.04,163.81 L369.80,162.29 L367.57,163.81 L368.33,161.22 L366.19,159.56 L368.89,159.48Z M372.45,156.35 L373.36,158.90 L376.07,158.98 L373.93,160.63 L374.69,163.23 L372.45,161.70 L370.22,163.23 L370.98,160.63 L368.84,158.98 L371.54,158.90Z M375.16,158.60 L376.07,161.14 L378.77,161.22 L376.63,162.88 L377.39,165.47 L375.16,163.95 L372.92,165.47 L373.68,162.88 L371.54,161.22 L374.25,161.14Z M377.91,157.09 L378.83,159.64 L381.53,159.72 L379.39,161.37 L380.15,163.97 L377.91,162.44 L375.68,163.97 L376.44,161.37 L374.30,159.72 L377.00,159.64Z M380.74,157.93 L381.66,160.48 L384.36,160.56 L382.22,162.21 L382.98,164.81 L380.74,163.28 L378.51,164.81 L379.27,162.21 L377.13,160.56 L379.83,160.48Z M383.69,157.24 L384.60,159.78 L387.31,159.86 L385.17,161.51 L385.93,164.11 L383.69,162.59 L381.46,164.11 L382.22,161.51 L380.08,159.86 L382.78,159.78Z M386.76,158.14 L387.67,160.69 L390.38,160.77 L388.24,162.42 L389.00,165.02 L386.76,163.49 L384.53,165.02 L385.29,162.42 L383.15,160.77 L385.85,160.69Z M389.96,158.08 L390.87,160.63 L393.58,160.71 L391.44,162.36 L392.19,164.96 L389.96,163.43 L387.73,164.96 L388.49,162.36 L386.35,160.71 L389.05,160.63Z M393.29,158.29 L394.20,160.84 L396.91,160.92 L394.77,162.57 L395.53,165.17 L393.29,163.64 L391.06,165.17 L391.82,162.57 L389.68,160.92 L392.38,160.84Z M396.76,159.17 L397.67,161.71 L400.38,161.79 L398.24,163.44 L399.00,166.04 L396.76,164.52 L394.53,166.04 L395.29,163.44 L393.15,161.79 L395.85,161.71Z M400.37,159.18 L401.28,161.73 L403.99,161.81 L401.85,163.46 L402.61,166.06 L400.37,164.53 L398.14,166.06 L398.90,163.46 L396.76,161.81 L399.46,161.73Z M404.07,160.17 L404.99,162.71 L407.69,162.79 L405.55,164.44 L406.31,167.04 L404.07,165.52 L401.84,167.04 L402.60,164.44 L400.46,162.79 L403.16,162.71Z M407.87,159.52 L408.78,162.07 L411.49,162.15 L409.35,163.80 L410.11,166.40 L407.87,164.87 L405.64,166.40 L406.40,163.80 L404.26,162.15 L406.96,162.07Z M411.77,160.29 L412.68,162.83 L415.38,162.91 L413.24,164.56 L414.00,167.16 L411.77,165.64 L409.53,167.16 L410.29,164.56 L408.15,162.91 L410.85,162.83Z M415.76,159.79 L416.67,162.33 L419.37,162.41 L417.23,164.07 L417.99,166.66 L415.76,165.14 L413.53,166.66 L414.29,164.07 L412.15,162.41 L414.85,162.33Z M419.87,159.88 L420.78,162.43 L423.48,162.51 L421.34,164.16 L422.10,166.76 L419.87,165.23 L417.64,166.76 L418.40,164.16 L416.26,162.51 L418.96,162.43Z M424.10,159.01 L425.01,161.56 L427.72,161.63 L425.58,163.29 L426.34,165.88 L424.10,164.36 L421.87,165.88 L422.63,163.29 L420.49,161.63 L423.19,161.56Z M428.46,156.43 L429.37,158.97 L432.07,159.05 L429.93,160.70 L430.69,163.30 L428.46,161.78 L426.22,163.30 L426.98,160.70 L424.84,159.05 L427.55,158.97Z M433.09,157.38 L434.00,159.93 L436.70,160.01 L434.56,161.66 L435.32,164.26 L433.09,162.73 L430.86,164.26 L431.62,161.66 L429.48,160.01 L432.18,159.93Z M438.10,157.19 L439.01,159.74 L441.71,159.82 L439.57,161.47 L440.33,164.07 L438.10,162.54 L435.87,164.07 L436.63,161.47 L434.49,159.82 L437.19,159.74Z M443.70,155.80 L444.61,158.35 L447.31,158.43 L445.17,160.08 L445.93,162.67 L443.70,161.15 L441.47,162.67 L442.23,160.08 L440.09,158.43 L442.79,158.35Z M449.60,155.26 L450.51,157.81 L453.21,157.89 L451.07,159.54 L451.83,162.13 L449.60,160.61 L447.37,162.13 L448.13,159.54 L445.99,157.89 L448.69,157.81Z M455.80,154.00 L456.71,156.55 L459.41,156.63 L457.27,158.28 L458.03,160.87 L455.80,159.35 L453.57,160.87 L454.33,158.28 L452.19,156.63 L454.89,156.55Z M462.60,152.32 L463.51,154.87 L466.21,154.95 L464.07,156.60 L464.83,159.20 L462.60,157.67 L460.37,159.20 L461.13,156.60 L458.99,154.95 L461.69,154.87Z M470.40,149.23 L471.31,151.77 L474.01,151.85 L471.87,153.50 L472.63,156.10 L470.40,154.58 L468.17,156.10 L468.93,153.50 L466.79,151.85 L469.49,151.77Z M479.60,146.70 L480.51,149.25 L483.21,149.33 L481.07,150.98 L481.83,153.57 L479.60,152.05 L477.37,153.57 L478.13,150.98 L475.99,149.33 L478.69,149.25Z M490.30,143.13 L491.21,145.68 L493.91,145.76 L491.77,147.41 L492.53,150.01 L490.30,148.48 L488.07,150.01 L488.83,147.41 L486.69,145.76 L489.39,145.68Z M504.40,138.53 L505.31,141.08 L508.01,141.16 L505.87,142.81 L506.63,145.41 L504.40,143.88 L502.17,145.41 L502.93,142.81 L500.79,141.16 L503.49,141.08Z M524.80,128.60 L525.71,131.15 L528.41,131.23 L526.27,132.88 L527.03,135.48 L524.80,133.95 L522.57,135.48 L523.33,132.88 L521.19,131.23 L523.89,131.15Z M585.50,130.60 L586.41,133.14 L589.11,133.22 L586.97,134.88 L587.73,137.47 L585.50,135.95 L583.27,137.47 L584.03,134.88 L581.89,133.22 L584.59,133.14Z" fill="#000"/>
<g fill="#000"><circle cx="349.30" cy="190.68" r="1.3"/><circle cx="351.11" cy="189.26" r="1.3"/><circle cx="353.05" cy="187.44" r="1.3"/><circle cx="355.12" cy="185.73" r="1.3"/><circle cx="357.35" cy="184.00" r="1.3"/><circle cx="359.73" cy="183.15" r="1.3"/><circle cx="362.17" cy="182.59" r="1.3"/><circle cx="364.66" cy="181.87" r="1.3"/><circle cx="367.21" cy="179.48" r="1.3"/><circle cx="369.80" cy="177.32" r="1.3"/><circle cx="372.45" cy="175.58" r="1.3"/><circle cx="375.16" cy="174.28" r="1.3"/><circle cx="377.91" cy="174.04" r="1.3"/><circle cx="380.74" cy="171.67" r="1.3"/><circle cx="383.69" cy="168.83" r="1.3"/><circle cx="386.76" cy="166.26" r="1.3"/><circle cx="389.96" cy="164.77" r="1.3"/><circle cx="393.29" cy="162.68" r="1.3"/><circle cx="396.76" cy="160.14" r="1.3"/><circle cx="400.37" cy="157.23" r="1.3"/><circle cx="404.07" cy="154.83" r="1.3"/><circle cx="407.87" cy="151.96" r="1.3"/><circle cx="411.77" cy="148.69" r="1.3"/><circle cx="415.76" cy="144.32" r="1.3"/><circle cx="419.87" cy="140.52" r="1.3"/><circle cx="424.10" cy="136.40" r="1.3"/><circle cx="428.46" cy="132.86" r="1.3"/><circle cx="433.09" cy="127.40" r="1.3"/><circle cx="438.10" cy="122.63" r="1.3"/><circle cx="443.70" cy="117.71" r="1.3"/><circle cx="449.60" cy="112.10" r="1.3"/><circle cx="455.80" cy="104.70" r="1.3"/><circle cx="462.60" cy="97.00" r="1.3"/><circle cx="470.40" cy="87.40" r="1.3"/><circle cx="479.60" cy="78.00" r="1.3"/><circle cx="490.30" cy="63.00" r="1.3"/><circle cx="504.40" cy="45.50" r="1.3"/><circle cx="524.80" cy="24.90" r="1.3"/><circle cx="585.50" cy="68.00" r="1.3"/></g>
<g fill="#000"><circle cx="349.30" cy="147.55" r="1.35"/><circle cx="351.11" cy="147.55" r="1.35"/><circle cx="353.05" cy="147.55" r="1.35"/><circle cx="355.12" cy="147.55" r="1.35"/><circle cx="357.35" cy="147.55" r="1.35"/><circle cx="359.73" cy="147.55" r="1.35"/><circle cx="362.17" cy="147.55" r="1.35"/><circle cx="364.66" cy="147.55" r="1.35"/><circle cx="367.21" cy="147.55" r="1.35"/><circle cx="369.80" cy="147.55" r="1.35"/><circle cx="372.45" cy="147.55" r="1.35"/><circle cx="375.16" cy="147.55" r="1.35"/><circle cx="377.91" cy="147.55" r="1.35"/><circle cx="380.74" cy="147.55" r="1.35"/><circle cx="383.69" cy="147.55" r="1.35"/><circle cx="386.76" cy="147.55" r="1.35"/><circle cx="389.96" cy="147.55" r="1.35"/><circle cx="393.29" cy="147.55" r="1.35"/><circle cx="396.76" cy="147.55" r="1.35"/><circle cx="400.37" cy="147.55" r="1.35"/><circle cx="404.07" cy="147.55" r="1.35"/><circle cx="407.87" cy="147.55" r="1.35"/><circle cx="411.77" cy="147.55" r="1.35"/><circle cx="415.76" cy="147.55" r="1.35"/><circle cx="419.87" cy="147.55" r="1.35"/><circle cx="424.10" cy="147.55" r="1.35"/><circle cx="428.46" cy="147.55" r="1.35"/><circle cx="433.09" cy="147.55" r="1.35"/><circle cx="438.10" cy="147.55" r="1.35"/><circle cx="443.70" cy="147.55" r="1.35"/><circle cx="449.60" cy="147.55" r="1.35"/><circle cx="455.80" cy="147.55" r="1.35"/><circle cx="462.60" cy="147.55" r="1.35"/><circle cx="470.40" cy="147.55" r="1.35"/><circle cx="479.60" cy="147.55" r="1.35"/><circle cx="490.30" cy="147.55" r="1.35"/><circle cx="504.40" cy="147.55" r="1.35"/><circle cx="524.80" cy="147.55" r="1.35"/><circle cx="585.50" cy="147.55" r="1.35"/></g>
<rect x="354" y="10.1" width="102.6" height="75.6" fill="#fff" stroke="#000" stroke-width="1.2"/>
<text x="365.8" y="24.7" font-size="13" font-weight="bold" text-anchor="start" fill="#000" textLength="75" lengthAdjust="spacingAndGlyphs" >Index density</text>
<circle cx="369.7" cy="31.70" r="1.2" fill="#000"/>
<text x="389.1" y="34.9" font-size="9.5" font-weight="normal" text-anchor="start" fill="#000" textLength="5.0" lengthAdjust="spacingAndGlyphs" >2</text>
<text x="397.3" y="34.9" font-size="10.5" font-weight="bold" text-anchor="start" fill="#000" textLength="47.2" lengthAdjust="spacingAndGlyphs" >quads/cell</text>
<path d="M369.70,38.85 L370.58,41.34 L373.22,41.41 L371.13,43.01 L371.87,45.54 L369.70,44.05 L367.53,45.54 L368.27,43.01 L366.18,41.41 L368.82,41.34Z" fill="#000"/>
<text x="389.1" y="45.75" font-size="9.5" font-weight="normal" text-anchor="start" fill="#000" textLength="5.0" lengthAdjust="spacingAndGlyphs" >3</text>
<text x="397.3" y="45.75" font-size="10.5" font-weight="bold" text-anchor="start" fill="#000" textLength="47.2" lengthAdjust="spacingAndGlyphs" >quads/cell</text>
<circle cx="369.7" cy="53.40" r="3.2" fill="none" stroke="#000" stroke-width="0.75"/>
<text x="389.1" y="56.599999999999994" font-size="9.5" font-weight="normal" text-anchor="start" fill="#000" textLength="5.0" lengthAdjust="spacingAndGlyphs" >4</text>
<text x="397.3" y="56.599999999999994" font-size="10.5" font-weight="bold" text-anchor="start" fill="#000" textLength="47.2" lengthAdjust="spacingAndGlyphs" >quads/cell</text>
<path d="M366.8,64.25H372.6M369.7,61.35V67.15" stroke="#000" stroke-width="0.75"/>
<text x="389.1" y="67.44999999999999" font-size="9.5" font-weight="normal" text-anchor="start" fill="#000" textLength="5.0" lengthAdjust="spacingAndGlyphs" >9</text>
<text x="397.3" y="67.44999999999999" font-size="10.5" font-weight="bold" text-anchor="start" fill="#000" textLength="47.2" lengthAdjust="spacingAndGlyphs" >quads/cell</text>
<line x1="358.7" y1="75.10" x2="380.4" y2="75.10" stroke="#777" stroke-width="0.9"/>
<circle cx="369.7" cy="75.10" r="1.2" fill="#000"/>
<text x="389.1" y="78.3" font-size="9.5" font-weight="normal" text-anchor="start" fill="#000" textLength="10.0" lengthAdjust="spacingAndGlyphs" >16</text>
<text x="402.3" y="78.3" font-size="10.5" font-weight="bold" text-anchor="start" fill="#000" textLength="47.2" lengthAdjust="spacingAndGlyphs" >quads/cell</text>
</svg>
</body></html>
